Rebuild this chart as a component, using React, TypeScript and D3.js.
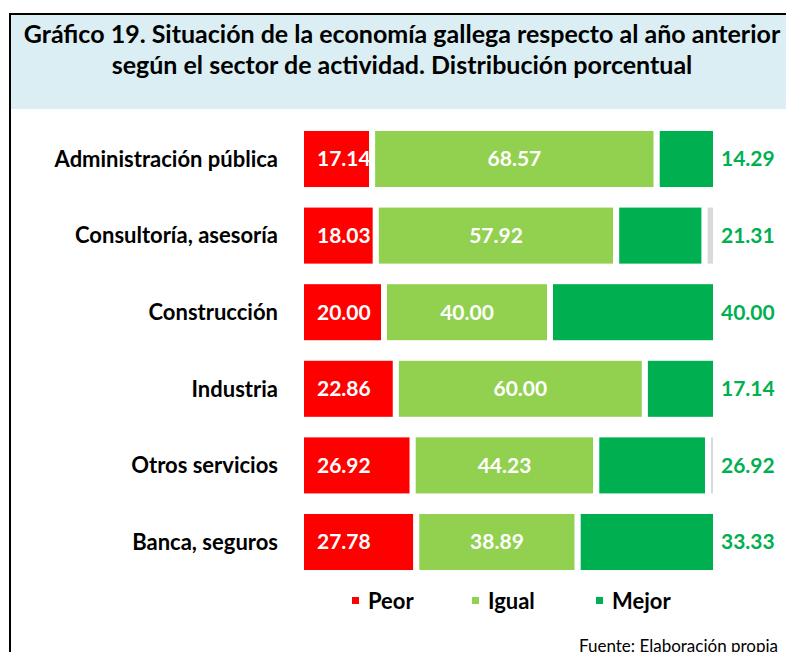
import React, { useRef, useEffect } from 'react';
import * as d3 from 'd3';

const categories = [
  'Administración pública',
  'Consultoría, asesoría',
  'Construcción',
  'Industria',
  'Otros servicios',
  'Banca, seguros',
];
const peor = [17.14, 18.03, 20.0, 22.86, 26.92, 27.78];
const igual = [68.57, 57.92, 40.0, 60.0, 44.23, 38.89];
const mejor = [14.29, 21.31, 40.0, 17.14, 26.92, 33.33];
const nsnc = [0, 2.74, 0, 0, 1.93, 0];

const keys = ['peor', 'igual', 'mejor', 'nsnc'];
const legendLabels = ['Peor', 'Igual', 'Mejor'];
const colors = ['#FF0000', '#92D050', '#00B050', '#D9D9D9'];

const titleLines = [
  'Gráfico 19. Situación de la economía gallega respecto al año anterior',
  'según el sector de actividad. Distribución porcentual',
];
const source = 'Fuente: Elaboración propia';

const width = 786;
const height = 652;
const font = 'Lato, "Open Sans", sans-serif';

const App = () => {
  const ref = useRef(null);

  useEffect(() => {
    const svg = d3.select(ref.current);
    svg.selectAll('*').remove();

    const data = categories.map((c, i) => ({
      cat: c,
      peor: peor[i],
      igual: igual[i],
      mejor: mejor[i],
      nsnc: nsnc[i],
    }));

    const series = d3.stack().keys(keys)(data);

    const x = d3.scaleLinear().domain([0, 100]).range([301, 716]);
    const y = d3
      .scaleBand()
      .domain(categories)
      .range([120.7, 580.3])
      .paddingInner(0.19)
      .paddingOuter(0.095);

    // frame + title box
    svg
      .append('rect')
      .attr('x', 10)
      .attr('y', 14)
      .attr('width', 820)
      .attr('height', 95)
      .attr('fill', '#DAEEF3');
    svg
      .append('rect')
      .attr('x', 10)
      .attr('y', 14)
      .attr('width', 820)
      .attr('height', 700)
      .attr('fill', 'none')
      .attr('stroke', '#000')
      .attr('stroke-width', 2);

    svg
      .append('g')
      .selectAll('text')
      .data(titleLines)
      .enter()
      .append('text')
      .attr('x', 402)
      .attr('y', (d, i) => 43 + i * 31)
      .attr('text-anchor', 'middle')
      .style('font-family', font)
      .style('font-weight', 700)
      .style('font-size', '25px')
      .attr('fill', '#000')
      .text(d => d);

    // category labels
    svg
      .append('g')
      .selectAll('text')
      .data(categories)
      .enter()
      .append('text')
      .attr('x', 278)
      .attr('y', d => y(d) + y.bandwidth() / 2)
      .attr('dy', '0.35em')
      .attr('text-anchor', 'end')
      .style('font-family', font)
      .style('font-weight', 700)
      .style('font-size', '22px')
      .attr('fill', '#000')
      .text(d => d);

    // bars, one series at a time so the next segment's white edge clips labels
    series.forEach((s, si) => {
      const g = svg.append('g');
      g.selectAll('rect')
        .data(s)
        .enter()
        .append('rect')
        .attr('x', d => x(d[0]))
        .attr('y', d => y(d.data.cat))
        .attr('width', d => x(d[1]) - x(d[0]))
        .attr('height', y.bandwidth())
        .attr('fill', colors[si])
        .attr('stroke', '#fff')
        .attr('stroke-width', d => (d[1] - d[0] > 0 ? 6 : 0));

      if (si > 2) return;
      const lbl = g
        .selectAll('text')
        .data(s)
        .enter()
        .append('text')
        .attr('y', d => y(d.data.cat) + y.bandwidth() / 2)
        .attr('dy', '0.35em')
        .style('font-family', font)
        .style('font-weight', 700)
        .style('font-size', '21px')
        .text(d => (d[1] - d[0]).toFixed(2));
      if (si === 0) {
        lbl.attr('x', x(0) + 16).attr('fill', '#fff');
      } else if (si === 1) {
        lbl
          .attr('x', d => (x(d[0]) + x(d[1])) / 2)
          .attr('text-anchor', 'middle')
          .attr('fill', '#fff');
      } else {
        lbl.attr('x', x(100) + 5).attr('fill', colors[2]);
      }
    });

    // legend
    const legendX = [352, 472, 596];
    const legend = svg.append('g').attr('transform', 'translate(0, 601)');
    legend
      .selectAll('rect')
      .data(legendLabels)
      .enter()
      .append('rect')
      .attr('x', (d, i) => legendX[i])
      .attr('y', -4)
      .attr('width', 7)
      .attr('height', 7)
      .attr('fill', (d, i) => colors[i]);
    legend
      .selectAll('text')
      .data(legendLabels)
      .enter()
      .append('text')
      .attr('x', (d, i) => legendX[i] + 16)
      .attr('dy', '0.35em')
      .style('font-family', font)
      .style('font-weight', 700)
      .style('font-size', '22px')
      .attr('fill', '#000')
      .text(d => d);

    svg
      .append('text')
      .attr('x', 579)
      .attr('y', 652)
      .style('font-family', font)
      .style('font-size', '17px')
      .attr('fill', '#000')
      .text(source);
  }, []);

  return (
    <div style={{ position: 'absolute', left: 0, top: 0, width, height, overflow: 'hidden' }}>
      <svg ref={ref} width={width} height={height} style={{ display: 'block', background: '#fff' }} />
    </div>
  );
};

export default App;
